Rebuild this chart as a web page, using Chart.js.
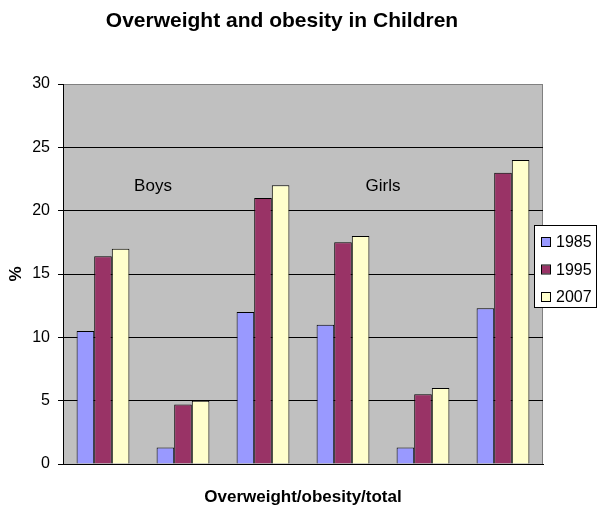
<!DOCTYPE html>
<html>
<head>
<meta charset="utf-8">
<script src="https://cdn.jsdelivr.net/npm/chart.js@4"></script>
<style>
  html, body { margin: 0; padding: 0; background: #fff; }
  #wrap { width: 600px; height: 508px; position: relative; }
</style>
</head>
<body>
<div id="wrap"><canvas id="grafico"></canvas></div>
<script>
// data
const categorias = ['Overweight', 'Obesity', 'Total', 'Overweight', 'Obesity', 'Total'];
const anos = ['1985', '1995', '2007'];
const valores1985 = [10.5, 1.3, 12.0, 11.0, 1.3, 12.3];
const valores1995 = [16.4, 4.7, 21.0, 17.5, 5.5, 23.0];
const valores2007 = [17.0, 5.0, 22.0, 18.0, 6.0, 24.0];
const cores = ['#9999FF', '#993366', '#FFFFCC'];
const rotulosGrupo = [{ texto: 'Boys', indice: 0.625, valor: 21.9 }, { texto: 'Girls', indice: 3.5, valor: 21.9 }];

const fonte = '"Liberation Sans", Arial, sans-serif';
Chart.defaults.font.family = fonte;
Chart.defaults.color = '#000';

// fundo cinza, titulo, textos Boys/Girls e legenda
const extras = {
    id: 'extras',
    beforeDraw(chart) {
        const { ctx, chartArea: a } = chart;
        ctx.save();
        ctx.fillStyle = '#C0C0C0';
        ctx.fillRect(a.left, a.top, a.right - a.left, a.bottom - a.top);
        ctx.strokeStyle = '#808080';
        ctx.lineWidth = 1;
        ctx.beginPath();
        ctx.moveTo(a.left, a.top + 0.5);
        ctx.lineTo(a.right - 0.5, a.top + 0.5);
        ctx.lineTo(a.right - 0.5, a.bottom);
        ctx.stroke();
        ctx.restore();
    },
    afterDraw(chart) {
        const { ctx } = chart;
        const x = chart.scales.x, y = chart.scales.y;
        ctx.save();
        // titulo
        ctx.fillStyle = '#000';
        ctx.font = 'bold 21px ' + fonte;
        ctx.textAlign = 'center';
        ctx.textBaseline = 'middle';
        ctx.fillText('Overweight and obesity in Children', 282, 21);

        // Boys / Girls
        ctx.font = '17px ' + fonte;
        const p0 = x.getPixelForValue(0), p1 = x.getPixelForValue(1);
        rotulosGrupo.forEach(r => {
            ctx.fillText(r.texto, p0 + (p1 - p0) * r.indice, y.getPixelForValue(r.valor));
        });

        // legenda
        const lx = 534, ly = 225, lw = 63, lh = 83;
        ctx.fillStyle = '#fff';
        ctx.fillRect(lx, ly, lw, lh);
        ctx.strokeStyle = '#000';
        ctx.lineWidth = 1;
        ctx.strokeRect(lx + 0.5, ly + 0.5, lw - 1, lh - 1);
        ctx.textAlign = 'left';
        ctx.font = '16px ' + fonte;
        chart.data.datasets.forEach((ds, i) => {
            const cy = 242 + i * 27.5;
            ctx.fillStyle = ds.backgroundColor;
            ctx.fillRect(542, cy - 4, 8, 8);
            ctx.strokeRect(541.5, cy - 4.5, 9, 9);
            ctx.fillStyle = '#000';
            ctx.fillText(ds.label, 556, cy + 1);
        });
        ctx.restore();
    }
};

new Chart(document.getElementById('grafico').getContext('2d'), {
    type: 'bar',
    data: {
        labels: categorias,
        datasets: [
            { label: anos[0], data: valores1985, backgroundColor: cores[0] },
            { label: anos[1], data: valores1995, backgroundColor: cores[1] },
            { label: anos[2], data: valores2007, backgroundColor: cores[2] }
        ].map(ds => Object.assign(ds, {
            borderColor: '#000',
            borderWidth: 1,
            categoryPercentage: 0.66,
            barPercentage: 1
        }))
    },
    options: {
        responsive: true,
        maintainAspectRatio: false,
        animation: false,
        layout: { padding: { left: 0, right: 57, top: 84, bottom: 0 } },
        plugins: {
            legend: { display: false },
            title: { display: false },
            tooltip: { enabled: false }
        },
        scales: {
            x: {
                grid: { display: false },
                border: { display: true, color: '#000', width: 1 },
                ticks: { display: false },
                title: {
                    display: true,
                    text: 'Overweight/obesity/total',
                    font: { size: 17, weight: 'bold' },
                    padding: { top: 13, bottom: 0 }
                },
                afterFit(scale) { scale.height = 44; }
            },
            y: {
                min: 0,
                max: 30,
                ticks: { stepSize: 5, padding: 8, font: { size: 16 } },
                grid: {
                    color: ctx => ctx.tick && ctx.tick.value === 30 ? '#808080' : '#000',
                    tickColor: '#000',
                    tickLength: 5,
                    lineWidth: 1
                },
                border: { display: true, color: '#000', width: 1 },
                title: {
                    display: true,
                    text: '%',
                    font: { size: 17, weight: 'bold' },
                    padding: { top: 6, bottom: 0 }
                },
                afterFit(scale) { scale.width = 63; }
            }
        }
    },
    plugins: [extras]
});
</script>
</body>
</html>
